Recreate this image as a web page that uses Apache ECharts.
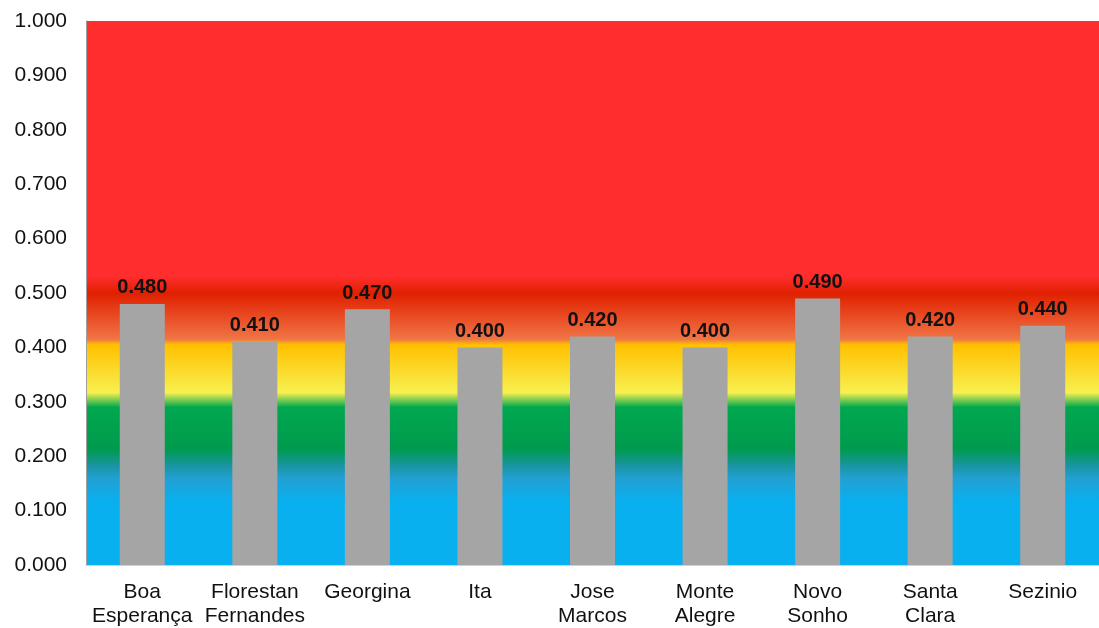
<!DOCTYPE html>
<html>
<head>
<meta charset="utf-8">
<script src="https://cdn.jsdelivr.net/npm/echarts@6/dist/echarts.min.js"></script>
<style>
  html, body { margin: 0; padding: 0; background: #fff; }
  #chart { width: 1099px; height: 628px; }
</style>
</head>
<body>
<div id="chart"></div>
<script>
// communities and their index values
var categories = ['Boa\nEsperança', 'Florestan\nFernandes', 'Georgina', 'Ita', 'Jose\nMarcos',
  'Monte\nAlegre', 'Novo\nSonho', 'Santa\nClara', 'Sezinio'];
var values = [0.48, 0.41, 0.47, 0.40, 0.42, 0.40, 0.49, 0.42, 0.44];
var yTicks = [0, 0.1, 0.2, 0.3, 0.4, 0.5, 0.6, 0.7, 0.8, 0.9, 1.0];

var chart = echarts.init(document.getElementById('chart'));

// background bands, top (1.0) to bottom (0.0)
var bg = new echarts.graphic.LinearGradient(0, 0, 0, 1, [
  { offset: 0, color: '#FF2D2D' },
  { offset: 0.47, color: '#FF2D2D' },
  { offset: 0.50, color: '#E02000' },
  { offset: 0.585, color: '#F07545' },
  { offset: 0.595, color: '#FFC000' },
  { offset: 0.683, color: '#F8F050' },
  { offset: 0.71, color: '#00A84F' },
  { offset: 0.787, color: '#009A4E' },
  { offset: 0.82, color: '#1A95A8' },
  { offset: 0.84, color: '#22A0D2' },
  { offset: 0.885, color: '#08B0F0' },
  { offset: 1, color: '#08B0F0' }
]);

chart.setOption({
  animation: false,
  grid: {
    left: 86, right: 0, top: 21, bottom: 62,
    show: true, backgroundColor: bg, borderWidth: 0
  },
  xAxis: {
    type: 'category',
    data: categories,
    axisLine: { show: true, lineStyle: { color: '#d0d0d0', width: 1 } },
    axisTick: { show: false },
    axisLabel: {
      color: '#111', fontSize: 21, fontFamily: 'Liberation Sans, Arial',
      lineHeight: 24, margin: 15, interval: 0
    }
  },
  yAxis: {
    type: 'value',
    min: yTicks[0], max: yTicks[yTicks.length - 1], interval: 0.1,
    splitLine: { show: false },
    axisLine: { show: true, lineStyle: { color: '#a0a0a0' } },
    axisTick: { show: false },
    axisLabel: {
      color: '#111', fontSize: 21, fontFamily: 'Liberation Sans, Arial', margin: 19,
      formatter: function (v) { return v.toFixed(3); }
    }
  },
  series: [{
    type: 'bar',
    data: values,
    barWidth: 45,
    itemStyle: { color: '#A5A5A5' },
    label: {
      show: true, position: 'top', distance: 6,
      color: '#111', fontWeight: 'bold', fontSize: 20, fontFamily: 'Liberation Sans, Arial',
      formatter: function (p) { return p.value.toFixed(3); }
    }
  }]
});
</script>
</body>
</html>
